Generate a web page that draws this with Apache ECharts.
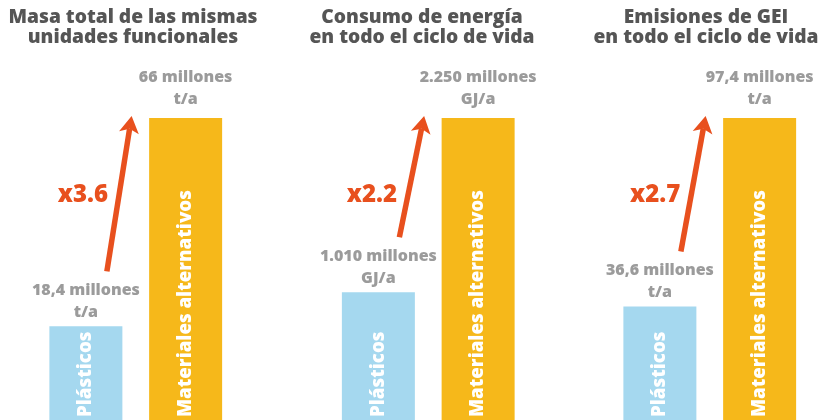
<!DOCTYPE html>
<html>
<head>
<meta charset="utf-8">
<script src="https://cdn.jsdelivr.net/npm/echarts@6/dist/echarts.min.js"></script>
<style>
html,body{margin:0;padding:0;background:#fff;}
#c{width:821px;height:420px;}
</style>
</head>
<body>
<div id="c"></div>
<script>
// ---- data ----
var titles = ['Masa total de las mismas\nunidades funcionales', 'Consumo de energía\nen todo el ciclo de vida', 'Emisiones de GEI\nen todo el ciclo de vida'];
var categories = ['Plásticos', 'Materiales alternativos'];
var plastics = [18.4, 1010, 36.6];
var alternatives = [66, 2250, 97.4];
var plasticLabels = ['18,4 millones', '1.010 millones', '36,6 millones'];
var altLabels = ['66 millones', '2.250 millones', '97,4 millones'];
var units = ['t/a', 'GJ/a', 't/a'];
var factors = ['x3.6', 'x2.2', 'x2.7'];
var axisMin = [-3, 100, 0];

var FONT = '"Open Sans", sans-serif';
var BLUE = '#a5d8ef', YELLOW = '#f6b81a', RED = '#e8501e', GRAY = '#9b9b9b', DARK = '#555555';
var gridLefts = [36, 328.5, 610];
var gridWidth = 199.5;
var titleCenters = [128, 417, 701];

var chart = echarts.init(document.getElementById('c'), null, {renderer: 'canvas'});

var option = {
  backgroundColor: '#ffffff',
  animation: false,
  title: [], grid: [], xAxis: [], yAxis: [], series: []
};

for (var i = 0; i < 3; i++) {
  option.title.push({
    text: titles[i],
    left: titleCenters[i],
    top: 3,
    textAlign: 'center',
    textStyle: {fontFamily: FONT, fontWeight: 800, fontSize: 19.2, lineHeight: 20, color: DARK}
  });
  option.grid.push({left: gridLefts[i], width: gridWidth, top: 118, bottom: 0, containLabel: false});
  option.xAxis.push({type: 'category', gridIndex: i, data: categories, show: false});
  option.yAxis.push({type: 'value', gridIndex: i, min: axisMin[i], max: alternatives[i], startValue: axisMin[i], show: false});
  option.series.push({
    type: 'bar', xAxisIndex: i, yAxisIndex: i, barWidth: 73, barGap: '-100%',
    data: [
      {value: plastics[i], itemStyle: {color: BLUE}},
      {value: alternatives[i], itemStyle: {color: YELLOW}}
    ],
    label: {
      show: true, position: 'insideBottom', distance: 3, rotate: 90,
      align: 'left', verticalAlign: 'middle',
      formatter: function (p) { return p.name; },
      color: '#ffffff', fontFamily: FONT, fontWeight: 800, fontSize: 18.7
    }
  });
  option.series.push({
    type: 'bar', xAxisIndex: i, yAxisIndex: i, barWidth: 73, barGap: '-100%',
    itemStyle: {color: 'rgba(0,0,0,0)'}, silent: true,
    data: [
      {value: plastics[i], label: {distance: 3, formatter: plasticLabels[i] + '\n' + units[i]}},
      {value: alternatives[i], label: {distance: 8, formatter: altLabels[i] + '\n' + units[i]}}
    ],
    label: {
      show: true, position: 'top', color: GRAY, fontFamily: FONT, fontWeight: 800,
      fontSize: 16, lineHeight: 22, align: 'center'
    }
  });
}
chart.setOption(option);

// arrows and multipliers placed from data positions
var graphics = [];
for (var j = 0; j < 3; j++) {
  var pb = chart.convertToPixel({gridIndex: j}, [0, plastics[j]]);
  var pa = chart.convertToPixel({gridIndex: j}, [1, alternatives[j]]);
  var bx = pb[0] + 21, by = pb[1] - 55;
  var tx = pa[0] - 54, ty = pa[1] - 2;
  var dx = tx - bx, dy = ty - by, len = Math.sqrt(dx * dx + dy * dy);
  var ux = dx / len, uy = dy / len, nx = -uy, ny = ux;
  var hl = 17, hw = 10, notch = 13;
  graphics.push({
    type: 'line', silent: true,
    shape: {x1: bx, y1: by, x2: tx - ux * notch, y2: ty - uy * notch},
    style: {stroke: RED, lineWidth: 5.5}
  });
  graphics.push({
    type: 'polygon', silent: true,
    shape: {points: [
      [tx, ty],
      [tx - ux * hl + nx * hw, ty - uy * hl + ny * hw],
      [tx - ux * notch, ty - uy * notch],
      [tx - ux * hl - nx * hw, ty - uy * hl - ny * hw]
    ]},
    style: {fill: RED}
  });
  var yText = 195;
  var xAt = bx + (by - yText) / (by - ty) * (tx - bx);
  graphics.push({
    type: 'text', silent: true, x: xAt - 11, y: yText,
    style: {text: factors[j], fill: RED, font: '800 24px ' + FONT, align: 'right', verticalAlign: 'middle'}
  });
}
chart.setOption({graphic: graphics});
</script>
</body>
</html>
